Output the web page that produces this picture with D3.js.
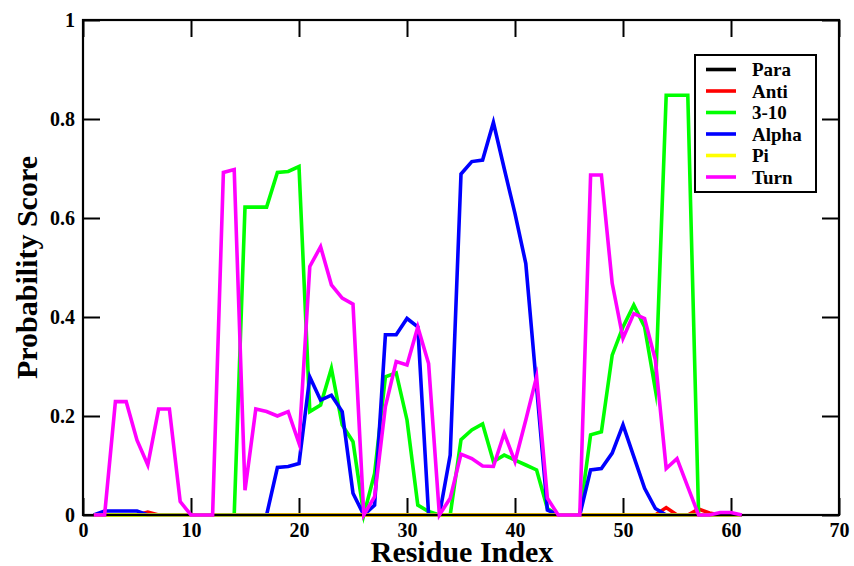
<!DOCTYPE html>
<html>
<head>
<meta charset="utf-8">
<script src="https://cdn.jsdelivr.net/npm/d3@7"></script>
<style>
  html, body { margin: 0; padding: 0; background: #fff; }
  svg { display: block; }
  text { font-family: "Liberation Serif", "Times New Roman", serif; font-weight: bold; fill: #000; }
</style>
</head>
<body>
<svg id="chart" width="854" height="566"></svg>
<script>
// Secondary-structure probability per residue
const residues = d3.range(1, 62);

const para = residues.map(() => 0);

const anti = [0, 0, 0, 0, 0, 0.006, 0, 0, 0, 0,
  0, 0, 0, 0, 0, 0, 0, 0, 0, 0,
  0, 0, 0, 0, 0, 0, 0, 0, 0, 0,
  0, 0, 0, 0, 0, 0, 0, 0, 0, 0,
  0, 0, 0, 0, 0, 0, 0, 0, 0, 0,
  0, 0, 0, 0.015, 0, 0, 0.012, 0.004, 0, 0,
  0];

const helix310 = [0, 0, 0, 0, 0, 0, 0, 0, 0, 0,
  0, 0, 0, 0, 0.622, 0.622, 0.622, 0.692, 0.694, 0.704,
  0.209, 0.222, 0.296, 0.182, 0.148, 0, 0.084, 0.279, 0.287, 0.192,
  0.02, 0.007, 0, 0, 0.152, 0.172, 0.184, 0.108, 0.121, 0.111,
  0.101, 0.091, 0.013, 0, 0, 0, 0.162, 0.168, 0.323, 0.38,
  0.424, 0.38, 0.253, 0.848, 0.848, 0.848, 0, 0, 0, 0,
  0];

const alpha = [0, 0.008, 0.008, 0.008, 0.008, 0, 0, 0, 0, 0,
  0, 0, 0, 0, 0, 0, 0, 0.096, 0.098, 0.104,
  0.279, 0.232, 0.242, 0.209, 0.044, 0, 0.02, 0.364, 0.364, 0.397,
  0.38, 0, 0, 0.121, 0.689, 0.714, 0.717, 0.793, 0.7, 0.609,
  0.508, 0.259, 0.01, 0, 0, 0, 0.091, 0.094, 0.125, 0.182,
  0.118, 0.054, 0.013, 0, 0, 0, 0, 0, 0, 0,
  0];

const pi = residues.map(() => 0);

const turn = [0, 0, 0.229, 0.229, 0.151, 0.101, 0.214, 0.214, 0.027, 0,
  0, 0, 0.692, 0.698, 0.05, 0.214, 0.209, 0.2, 0.209, 0.145,
  0.502, 0.542, 0.465, 0.438, 0.426, 0, 0.037, 0.219, 0.31, 0.303,
  0.38, 0.306, 0, 0.034, 0.123, 0.114, 0.099, 0.098, 0.165, 0.108,
  0.192, 0.279, 0.034, 0, 0, 0, 0.687, 0.687, 0.468, 0.357,
  0.407, 0.397, 0.313, 0.094, 0.114, 0.057, 0, 0, 0.005, 0.005,
  0];

const seriesNames = ["Para", "Anti", "3-10", "Alpha", "Pi", "Turn"];
const seriesColors = ["#000000", "#ff0000", "#00ff00", "#0000ff", "#ffff00", "#ff00ff"];
const seriesValues = [para, anti, helix310, alpha, pi, turn];

const xTicks = [0, 10, 20, 30, 40, 50, 60, 70];
const yTicks = [0, 0.2, 0.4, 0.6, 0.8, 1];
const yTickLabels = ["0", "0.2", "0.4", "0.6", "0.8", "1"];

const serif = "'Liberation Serif', 'Times New Roman', serif";

const svg = d3.select("#chart");
const plotL = 83, plotR = 839, plotT = 20, plotB = 515;

const x = d3.scaleLinear().domain([0, 70]).range([plotL, plotR]);
const y = d3.scaleLinear().domain([0, 1]).range([plotB, plotT]);

const tickLen = 17;

// Axes with inward ticks on all four sides
function styleAxis(g) {
  g.attr("font-family", serif).attr("font-weight", "bold");
  g.select(".domain").remove();
  g.selectAll(".tick line").attr("stroke", "#000").attr("stroke-width", 2);
  g.selectAll(".tick text").style("font-size", "20px").attr("fill", "#000");
}

const xAxis = svg.append("g").attr("transform", `translate(0,${plotB})`)
  .call(d3.axisBottom(x).tickValues(xTicks).tickFormat(d3.format("d"))
    .tickSizeInner(-tickLen).tickSizeOuter(0))
  .call(styleAxis);
xAxis.selectAll(".tick text").attr("y", 22).attr("dy", 0);

svg.append("g").attr("transform", `translate(0,${plotT})`)
  .call(d3.axisTop(x).tickValues(xTicks).tickFormat("")
    .tickSizeInner(-tickLen).tickSizeOuter(0))
  .call(styleAxis);

const yAxis = svg.append("g").attr("transform", `translate(${plotL},0)`)
  .call(d3.axisLeft(y).tickValues(yTicks).tickFormat((d, i) => yTickLabels[i])
    .tickSizeInner(-tickLen).tickSizeOuter(0))
  .call(styleAxis);
yAxis.selectAll(".tick text").attr("x", -8);

svg.append("g").attr("transform", `translate(${plotR},0)`)
  .call(d3.axisRight(y).tickValues(yTicks).tickFormat("")
    .tickSizeInner(-tickLen).tickSizeOuter(0))
  .call(styleAxis);

// Series lines
const line = d3.line()
  .x((d, i) => x(residues[i]))
  .y(d => y(d));

function drawSeries(parent, k) {
  parent.append("path")
    .datum(seriesValues[k])
    .attr("d", line)
    .attr("fill", "none")
    .attr("stroke", seriesColors[k])
    .attr("stroke-width", 3.6)
    .attr("stroke-linejoin", "miter")
    .attr("stroke-miterlimit", 10);
}
const linesG = svg.append("g");
[0, 1, 2, 3, 4].forEach(k => drawSeries(linesG, k));

// Frame
svg.append("rect")
  .attr("x", plotL).attr("y", plotT)
  .attr("width", plotR - plotL).attr("height", plotB - plotT)
  .attr("fill", "none").attr("stroke", "#000").attr("stroke-width", 2.2);

// Turn is drawn above the frame
drawSeries(svg.append("g"), 5);

// Axis titles
svg.append("text")
  .attr("x", (plotL + plotR) / 2 + 1).attr("y", 562)
  .attr("text-anchor", "middle")
  .style("font-size", "30px")
  .text("Residue Index");

svg.append("text")
  .attr("transform", `translate(37,${(plotT + plotB) / 2}) rotate(-90)`)
  .attr("text-anchor", "middle")
  .style("font-size", "30px")
  .text("Probability Score");

// Legend
const legend = svg.append("g");
legend.append("rect")
  .attr("x", 695).attr("y", 55).attr("width", 121).attr("height", 137)
  .attr("fill", "#fff").attr("stroke", "#000").attr("stroke-width", 2);

seriesNames.forEach((name, i) => {
  const yy = 69.5 + i * 21.5;
  legend.append("line")
    .attr("x1", 706).attr("x2", 736).attr("y1", yy).attr("y2", yy)
    .attr("stroke", seriesColors[i]).attr("stroke-width", 3.6);
  legend.append("text")
    .attr("x", 752).attr("y", yy).attr("dy", "0.35em")
    .style("font-size", "19px")
    .text(name);
});
</script>
</body>
</html>
